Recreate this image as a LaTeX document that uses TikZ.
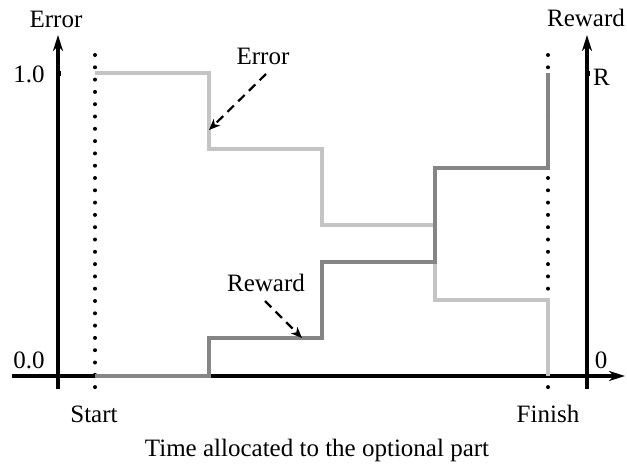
\documentclass[tikz,border=0pt]{standalone}
\usepackage{fontspec}
\setmainfont{Liberation Serif}
\usetikzlibrary{arrows.meta}
\definecolor{errgray}{HTML}{C4C4C4}
\definecolor{rewgray}{HTML}{858585}
\tikzset{
  axisline/.style={line width=4.2pt,-{Stealth[length=16pt,width=10pt,inset=5pt]}},
  guide/.style={line width=4pt,line cap=round,dash pattern=on 0pt off 12.3pt},
  errcurve/.style={errgray,line width=3.2pt},
  rewcurve/.style={rewgray,line width=3.2pt},
  pointer/.style={line width=2.2pt,dash pattern=on 9pt off 6pt,-{Stealth[length=11pt,width=9pt,inset=3pt]}},
  lbl/.style={font=\fontsize{25}{30}\selectfont,inner sep=0pt},
  tickdot/.style={rectangle,fill=black,inner sep=0pt,minimum size=5pt}
}
\begin{document}
\begin{tikzpicture}[x=1pt,y=-1pt]
\useasboundingbox (0,0) rectangle (627,466);

% dotted start / finish guides
\draw[guide] (95,55) -- (95,396);
\draw[guide] (548,55) -- (548,396);

% axes
\draw[axisline] (58,389) -- (58,35);
\draw[axisline] (587,389) -- (587,35);
\draw[axisline] (12,376) -- (625,376);
\node[tickdot] (t1) at (58,73) {};
\node[tickdot] (tR) at (587,73) {};

% step curves
\draw[errcurve] (95,73) -- (209,73) -- (209,149) -- (322,149) -- (322,225)
  -- (435,225) -- (435,300) -- (548,300) -- (548,376);
\draw[rewcurve] (95,376) -- (209,376) -- (209,338) -- (322,338) -- (322,262)
  -- (435,262) -- (435,168) -- (548,168) -- (548,73);

% axis labels
\node[lbl] (yl) at (56,19) {Error};
\node[lbl] (yr) at (586,18) {Reward};
\node[lbl] (one) at (29,74) {1.0};
\node[lbl] (zero) at (29,360) {0.0};
\node[lbl,anchor=west] (rmax) at (593,77) {R};
\node[lbl] (rmin) at (601,360) {0};
\node[lbl] (start) at (94,414) {Start};
\node[lbl] (finish) at (548,414) {Finish};
\node[lbl] (xl) at (317,450) {Time allocated to the optional part};

% curve labels
\node[lbl] (errlbl) at (263,56) {Error};
\node[lbl] (rewlbl) at (266,283) {Reward};
\coordinate (errtip) at (209,130);
\coordinate (rewtip) at (302,338);
\draw[pointer] (266,74) -- (errtip);
\draw[pointer] (265,301) -- (rewtip);
\end{tikzpicture}
\end{document}
